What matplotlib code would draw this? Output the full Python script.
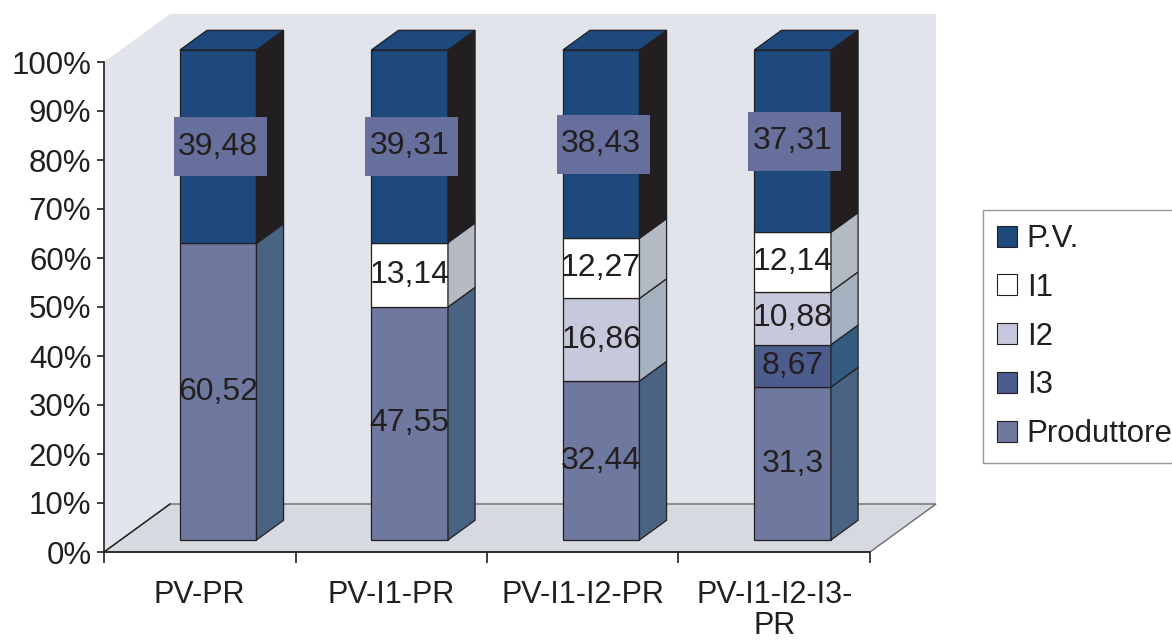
import matplotlib
matplotlib.use("Agg")
import matplotlib.pyplot as plt
from matplotlib.patches import Polygon, Rectangle, Patch

plt.rcParams["font.family"] = ["Liberation Sans", "DejaVu Sans"]

# data: share of price per channel member, per distribution chain
categories = ["PV-PR", "PV-I1-PR", "PV-I1-I2-PR", "PV-I1-I2-I3-\nPR"]
series = ["Produttore", "I3", "I2", "I1", "P.V."]
produttore = [60.52, 47.55, 32.44, 31.3]
i3 = [0, 0, 0, 8.67]
i2 = [0, 0, 16.86, 10.88]
i1 = [0, 13.14, 12.27, 12.14]
pv = [39.48, 39.31, 38.43, 37.31]
values = [produttore, i3, i2, i1, pv]

# front / side colours of each series
front = {"Produttore": "#6F79A0", "I3": "#4B5C8D", "I2": "#C6C8DC",
         "I1": "#FFFFFF", "P.V.": "#1D497C"}
side = {"Produttore": "#4A6383", "I3": "#345C80", "I2": "#A5B1BE",
        "I1": "#B3BAC4", "P.V.": "#231F20"}
EDGE = "#231F20"
TXT = "#231F20"
WALL = "#E1E4EA"
FLOOR = "#D6D9E0"
LABEL_BOX = "#67709C"

# oblique projection: offset of one unit of depth in data units
DX, DY = 0.345, 9.8
BAR_LEFT, BAR_W = 0.31, 0.40
Z0, ZD = 0.25, 0.41


def proj(x, y, d):
    return (x + d * DX, y + d * DY)


def face(ax, pts, color, z, ec=EDGE, lw=0.9):
    ax.add_patch(Polygon(pts, closed=True, facecolor=color, edgecolor=ec,
                         lw=lw, clip_on=False, zorder=z, joinstyle="miter"))


fig = plt.figure(figsize=(11.72, 6.44), dpi=100)
ax = fig.add_axes([104 / 1172, 92 / 644, 766 / 1172, 490 / 644])
ax.set_xlim(0, 4)
ax.set_ylim(0, 100)
ax.patch.set_visible(False)

n = len(categories)

# walls and floor
face(ax, [(0, 0), (0, 100), proj(0, 100, 1), proj(n, 100, 1),
          proj(n, 0, 1), proj(0, 0, 1)], WALL, 0.5, ec="none", lw=0)
face(ax, [(0, 0), proj(0, 0, 1), proj(n, 0, 1), (n, 0)], FLOOR, 0.6,
     ec="#6b6b6b", lw=1.0)
ax.plot([0, DX], [0, DY], color=EDGE, lw=1.0, clip_on=False, zorder=0.7)

for i in range(n):
    total = sum(v[i] for v in values)
    x0 = i + BAR_LEFT
    x1 = x0 + BAR_W
    bottom = 0.0
    segs = [(s, v[i]) for s, v in zip(series, values) if v[i] > 0]
    for k, (name, val) in enumerate(segs):
        h = val / total * 100
        top = bottom + h
        z = 2 + i
        face(ax, [proj(x0, bottom, Z0), proj(x1, bottom, Z0),
                  proj(x1, top, Z0), proj(x0, top, Z0)], front[name], z)
        face(ax, [proj(x1, bottom, Z0), proj(x1, bottom, Z0 + ZD),
                  proj(x1, top, Z0 + ZD), proj(x1, top, Z0)], side[name], z)
        if k == len(segs) - 1:
            face(ax, [proj(x0, top, Z0), proj(x1, top, Z0),
                      proj(x1, top, Z0 + ZD), proj(x0, top, Z0 + ZD)],
                 front[name], z)
        cx, cy = proj((x0 + x1) / 2, bottom + h / 2, Z0)
        label = f"{val:g}".replace(".", ",")
        if name == "P.V.":
            bw, bh = 0.486, 12.0
            ax.add_patch(Rectangle((cx - bw / 2 + 0.01, cy - bh / 2), bw, bh,
                                   facecolor=LABEL_BOX, edgecolor="none",
                                   clip_on=False, zorder=20))
        ax.text(cx, cy, label, ha="center", va="center", fontsize=23,
                color=TXT, zorder=21, clip_on=False)
        bottom = top

# axes styling
for s in ["top", "right"]:
    ax.spines[s].set_visible(False)
for s in ["left", "bottom"]:
    ax.spines[s].set_color(EDGE)
    ax.spines[s].set_linewidth(1.2)
    ax.spines[s].set_zorder(1)

ax.set_yticks(range(0, 101, 10))
ax.set_yticklabels([f"{v}%" for v in range(0, 101, 10)])
ax.tick_params(axis="y", length=5, width=1.2, color=EDGE, pad=4,
               labelsize=22.5, labelcolor=TXT)

ax.set_xticks(range(n + 1))
ax.set_xticklabels([])
ax.set_xticks([i + 0.5 for i in range(n)], minor=True)
ax.set_xticklabels(categories, minor=True)
ax.tick_params(axis="x", which="major", length=8, width=1.2, color=EDGE)
ax.tick_params(axis="x", which="minor", length=0, pad=20, labelsize=22,
               labelcolor=TXT)
for t in ax.get_xticklabels(minor=True):
    t.set_linespacing(1.05)

handles = [Patch(facecolor=front[s], edgecolor=EDGE, lw=0.8)
           for s in reversed(series)]
leg = fig.legend(handles, list(reversed(series)), loc="upper left",
                 bbox_to_anchor=(983 / 1172, 1 - 210 / 644), frameon=True,
                 fancybox=False, edgecolor="#7f7f7f", fontsize=22.5,
                 handlelength=0.65, handleheight=0.65, handletextpad=0.3,
                 labelspacing=0.6, borderpad=0.45, borderaxespad=0)
leg.get_frame().set_linewidth(1.0)
for t in leg.get_texts():
    t.set_color(TXT)

fig.savefig("out.png", dpi=100)
